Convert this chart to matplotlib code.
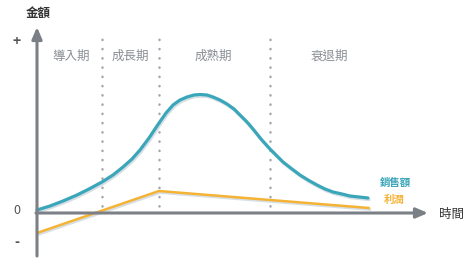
import matplotlib
matplotlib.use('Agg')
import matplotlib.pyplot as plt
import matplotlib.patheffects as pe

plt.rcParams['font.family'] = ['Noto Sans CJK TC', 'DejaVu Sans']

# ── Data (time offset from y-axis, amount above the x-axis) ──────────────────
phases       = ['導入期', '成長期', '成熟期', '衰退期']
phase_bounds = [65, 122, 233]
phase_mid    = [34, 93, 176, 292]

sales_t = [0, 13, 26, 40, 52, 65, 76, 86, 95, 103, 112, 122, 129, 136,
           143, 150, 157, 163, 170, 176, 183, 190, 197, 203, 210, 216,
           224, 233, 240, 246, 255, 263, 271, 280, 288, 296, 305, 313,
           322, 331]
sales_v = [3, 7, 12, 18, 24, 31, 38, 46, 54, 63, 75, 90, 100, 108,
           113, 116, 118, 118.5, 118, 116, 113, 109, 104, 98, 91, 84,
           74, 64, 57, 51, 44, 38, 33, 28, 24, 21, 19, 17,
           16, 15]

profit_t = [0, 122, 332]
profit_v = [-20, 22, 5]

TEAL   = '#3aa6b9'
ORANGE = '#f5b335'
AXIS   = '#7b8087'

# ── Figure ───────────────────────────────────────────────────────────────────
fig = plt.figure(figsize=(4.74, 2.64), dpi=100)
ax = fig.add_axes([0, 0, 1, 1])
ax.set_xlim(-37, 437)
ax.set_ylim(-51, 213)
ax.axis('off')

# axes with arrows
ax.annotate('', xy=(0, 186), xytext=(0, -43),
            arrowprops=dict(arrowstyle='-|>,head_length=0.7,head_width=0.3',
                            color=AXIS, lw=2.2, shrinkA=0, shrinkB=0))
ax.annotate('', xy=(391, 0), xytext=(-1, 0),
            arrowprops=dict(arrowstyle='-|>,head_length=0.7,head_width=0.3',
                            color=AXIS, lw=2.2, shrinkA=0, shrinkB=0))

# phase separators
for b in phase_bounds:
    ax.plot([b, b], [7, 181], color='#a3a7ab', lw=1.8,
            linestyle=(0, (0.1, 3.6)), dash_capstyle='round')

for name, m in zip(phases, phase_mid):
    ax.text(m, 157, name, color='#8a8e93', fontsize=9, ha='center', va='center')

# curves
shadow = [pe.SimpleLineShadow(offset=(0.8, -1.2), shadow_color='#8fa6b5',
                              alpha=0.35), pe.Normal()]
ax.plot(sales_t, sales_v, color=TEAL, lw=2.3, solid_capstyle='round',
        solid_joinstyle='round', path_effects=shadow)
ax.plot(profit_t, profit_v, color=ORANGE, lw=1.8, solid_capstyle='round',
        path_effects=shadow)

# labels
ax.text(1, 200, '金額', color='#333333', fontsize=9, fontweight='bold',
        ha='center', va='center')
ax.text(415, -1, '時間', color='#333333', fontsize=9, ha='center', va='center')
ax.text(-20, 171, '+', color='#555555', fontsize=10, fontweight='bold',
        ha='center', va='center')
ax.text(-20, 2, '0', color='#555555', fontsize=9, ha='center', va='center')
ax.text(-20, -29, '-', color='#555555', fontsize=10, fontweight='bold',
        ha='center', va='center')
ax.text(358, 30, '銷售額', color=TEAL, fontsize=7.5, fontweight='bold',
        ha='center', va='center')
ax.text(357, 13, '利潤', color=ORANGE, fontsize=7.5, fontweight='bold',
        ha='center', va='center')

fig.savefig('out.png', dpi=100)
